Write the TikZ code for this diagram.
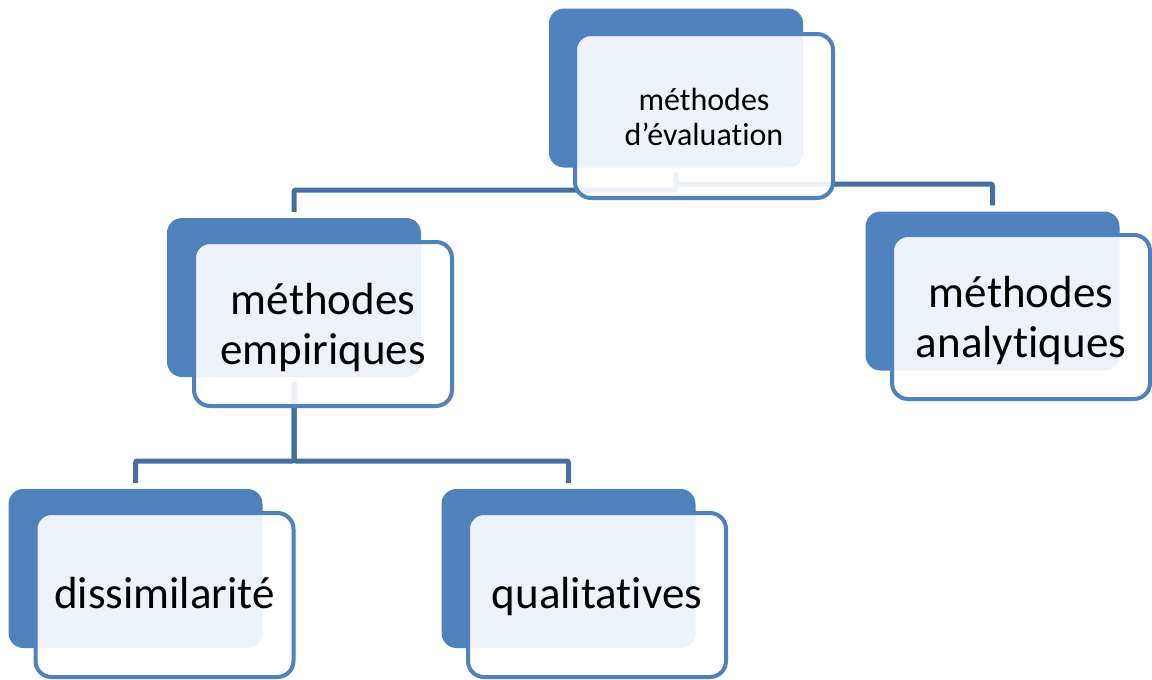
\documentclass[tikz,border=0pt]{standalone}
\usepackage{fontspec}
\setmainfont{Carlito}[Ligatures={NoCommon}]
\usetikzlibrary{backgrounds}
\definecolor{accent}{HTML}{4F81BD}
\definecolor{conn}{RGB}{69,111,160}
\begin{document}
\begin{tikzpicture}[x=1pt,y=-1pt,
 backbox/.style={rectangle, rounded corners=15pt, fill=accent, minimum width=254pt, minimum height=159pt, inner sep=0pt},
 frontbox/.style={rectangle, rounded corners=16pt, draw=accent, line width=4pt, fill=white, fill opacity=0.9, minimum width=258pt, minimum height=164pt, inner sep=0pt},
 label/.style={inner sep=0pt, align=center, text=black},
 bigtext/.style={label, font=\fontsize{45}{50}\selectfont},
 smalltext/.style={label, font=\fontsize{32}{35}\selectfont},
 oneline/.style={text height=33pt, text depth=7pt},
 link/.style={draw=conn, line width=5pt, rounded corners=2pt, shorten <=5pt, shorten >=6pt}]
\useasboundingbox (0,0) rectangle (1152,680);

\node[backbox] (topB) at (676,88) {};
\node[frontbox] (topF) at (704,116) {};
\node[smalltext] (topT) at ([yshift=-1pt]topF.center) {méthodes\\d’évaluation};

\node[backbox] (empB) at (294,297.5) {};
\node[frontbox] (empF) at (323,324) {};
\node[bigtext] (empT) at ([yshift=-3pt]empF.center) {méthodes\\empiriques};

\node[backbox] (anaB) at (992.5,291) {};
\node[frontbox] (anaF) at (1021,317) {};
\node[bigtext] (anaT) at ([yshift=-3pt]anaF.center) {méthodes\\analytiques};

\node[backbox] (dissB) at (135.5,568.5) {};
\node[frontbox] (dissF) at (164.5,595) {};
\node[bigtext, oneline] (dissT) at (dissF.center) {dissimilarité};

\node[backbox] (qualB) at (568.5,568.5) {};
\node[frontbox] (qualF) at (597,595) {};
\node[bigtext, oneline] (qualT) at (qualF.center) {qualitatives};

\begin{scope}[on background layer]
\coordinate (j1) at (676,190);
\coordinate (j2) at (676,184);
\coordinate (j3) at (294,461);
\draw[link] (topB.south) -- (j1) -| (empB.north);
\draw[link] (topB.south) -- (j2) -| (anaB.north);
\draw[link] (empB.south) -- (j3) -| (dissB.north);
\draw[link] (empB.south) -- (j3) -| (qualB.north);
\end{scope}
\end{tikzpicture}
\end{document}
